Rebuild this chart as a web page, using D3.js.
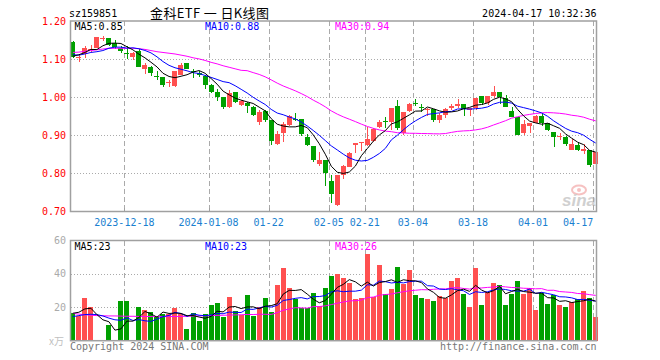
<!DOCTYPE html>
<html><head><meta charset="utf-8">
<script src="https://cdn.jsdelivr.net/npm/d3@7"></script>
<style>body{margin:0;background:#fff}svg{display:block}</style>
</head><body>
<svg id="c" width="660" height="360"></svg>
<script>
// ---------------- DATA ----------------
const dates = [
"2023-12-05","2023-12-06","2023-12-07","2023-12-08","2023-12-11","2023-12-12","2023-12-13","2023-12-14","2023-12-15","2023-12-18",
"2023-12-19","2023-12-20","2023-12-21","2023-12-22","2023-12-25","2023-12-26","2023-12-27","2023-12-28","2023-12-29","2024-01-02",
"2024-01-03","2024-01-04","2024-01-05","2024-01-08","2024-01-09","2024-01-10","2024-01-11","2024-01-12","2024-01-15","2024-01-16",
"2024-01-17","2024-01-18","2024-01-19","2024-01-22","2024-01-23","2024-01-24","2024-01-25","2024-01-26","2024-01-29","2024-01-30",
"2024-01-31","2024-02-01","2024-02-02","2024-02-05","2024-02-06","2024-02-07","2024-02-08","2024-02-19","2024-02-20","2024-02-21",
"2024-02-22","2024-02-23","2024-02-26","2024-02-27","2024-02-28","2024-02-29","2024-03-01","2024-03-04","2024-03-05","2024-03-06",
"2024-03-07","2024-03-08","2024-03-11","2024-03-12","2024-03-13","2024-03-14","2024-03-15","2024-03-18","2024-03-19","2024-03-20",
"2024-03-21","2024-03-22","2024-03-25","2024-03-26","2024-03-27","2024-03-28","2024-03-29","2024-04-01","2024-04-02","2024-04-03",
"2024-04-08","2024-04-09","2024-04-10","2024-04-11","2024-04-12","2024-04-15","2024-04-16","2024-04-17"];

const open = [1.146,1.104,1.114,1.126,1.129,1.156,1.156,1.142,1.129,1.116,
1.105,1.123,1.074,1.081,1.055,1.054,1.038,1.030,1.059,1.089,
1.068,1.065,1.056,1.032,1.015,1.000,0.974,1.014,0.981,0.986,
0.975,0.935,0.965,0.940,0.877,0.907,0.927,0.942,0.942,0.896,
0.872,0.825,0.835,0.781,0.717,0.796,0.816,0.875,0.879,0.874,
0.886,0.923,0.937,0.936,0.977,0.905,0.965,0.986,0.974,0.967,
0.968,0.939,0.954,0.971,0.977,0.982,0.967,0.971,1.003,0.984,
1.003,1.014,0.997,0.965,0.947,0.907,0.925,0.932,0.951,0.933,
0.910,0.897,0.895,0.861,0.874,0.860,0.861,0.825];
const high = [1.147,1.111,1.136,1.138,1.160,1.161,1.157,1.151,1.135,1.135,
1.118,1.127,1.090,1.083,1.068,1.054,1.046,1.068,1.089,1.089,
1.074,1.070,1.059,1.035,1.021,1.000,1.018,1.014,0.994,0.988,
0.977,0.967,0.967,0.940,0.912,0.935,0.954,0.960,0.944,0.903,
0.872,0.856,0.835,0.796,0.796,0.822,0.857,0.879,0.883,0.923,
0.920,0.939,0.947,0.971,0.993,0.962,0.986,0.995,0.982,0.972,
0.970,0.960,0.971,0.982,0.995,0.982,0.972,0.997,1.003,1.003,
1.030,1.014,1.006,0.975,0.947,0.939,0.932,0.954,0.958,0.933,
0.910,0.905,0.898,0.889,0.883,0.877,0.861,0.858];
const low = [1.103,1.094,1.103,1.120,1.129,1.148,1.135,1.128,1.116,1.100,
1.097,1.080,1.061,1.056,1.046,1.026,1.026,1.026,1.059,1.074,
1.050,1.054,1.021,1.011,0.989,0.970,0.971,0.985,0.978,0.958,
0.952,0.927,0.936,0.875,0.874,0.883,0.924,0.938,0.899,0.872,
0.831,0.819,0.767,0.722,0.714,0.784,0.816,0.854,0.860,0.872,
0.883,0.918,0.918,0.914,0.914,0.901,0.962,0.977,0.962,0.951,
0.936,0.933,0.945,0.967,0.971,0.951,0.951,0.967,0.980,0.980,
0.997,0.982,0.975,0.947,0.901,0.901,0.905,0.932,0.925,0.912,
0.870,0.888,0.872,0.861,0.859,0.851,0.816,0.822];
const close = [1.107,1.106,1.129,1.128,1.158,1.157,1.138,1.132,1.123,1.115,
1.116,1.081,1.084,1.065,1.054,1.032,1.039,1.068,1.084,1.074,
1.067,1.059,1.032,1.015,1.000,0.975,1.011,0.988,0.989,0.977,
0.954,0.962,0.940,0.886,0.904,0.930,0.951,0.940,0.904,0.875,
0.835,0.835,0.802,0.746,0.796,0.819,0.854,0.879,0.883,0.891,
0.916,0.936,0.936,0.971,0.918,0.962,0.982,0.985,0.973,0.970,
0.939,0.954,0.968,0.977,0.982,0.968,0.972,0.997,0.986,1.003,
1.015,1.000,0.975,0.949,0.901,0.930,0.932,0.951,0.932,0.914,
0.896,0.898,0.877,0.877,0.861,0.863,0.822,0.856];
// volume (x万)
const volume = [16.4,14.8,25.8,20.4,0.7,0.7,9.1,0.7,24.0,24.0,
0.7,20.2,18.4,17.0,14.0,16.0,16.0,19.6,16.0,7.1,
16.4,11.6,16.0,21.4,22.6,14.4,26.0,17.8,15.2,27.4,
14.8,20.2,25.4,17.0,33.1,43.5,31.5,25.0,19.6,19.6,
28.5,20.6,31.5,38.7,39.9,37.7,34.7,25.0,25.8,51.8,
26.0,45.3,27.8,31.0,44.1,33.9,42.5,27.4,25.8,25.0,
23.8,27.0,25.4,35.7,37.7,28.2,20.4,43.7,21.4,29.4,
34.7,33.3,21.4,28.2,35.7,28.2,31.5,18.4,28.4,22.0,
27.4,21.4,20.2,23.0,25.0,29.8,25.8,14.2];

// moving-average values at the start of the window (history lies before the chart)
const ma5Head  = [1.108,1.112,1.118,1.126];
const ma10Head = [1.112,1.111,1.114,1.118,1.120,1.123,1.129,1.132,1.132];
const ma30Head = [1.118,1.119,1.121,1.123,1.125,1.127,1.129,1.129,1.129,1.129,1.129,1.128,1.126,1.123,1.120,1.118,1.116,1.114,1.111,1.108,1.104,1.101,1.097,1.092,1.088,1.083,1.079,1.075,1.071];
const vma5Head  = [16.4,17.0,19.0,19.4];
const vma10Head = [14.4,15.0,15.6,15.8,15.6,14.8,13.5,12.5,12.2];
const vma30Head = [16.3,15.9,15.5,15.2,15.0,14.9,14.8,14.8,14.7,14.6,14.6,14.5,14.5,14.4,14.4,14.4,14.4,14.5,14.5,14.6,14.7,14.8,14.9,15.0,15.1,15.2,15.3,15.4,15.5];

const priceTicks = [1.20,1.10,1.00,0.90,0.80,0.70];
const volTicks = [60,40,20];
const tickDates = ["2023-12-18","2024-01-08","2024-01-22","2024-02-05","2024-02-21","2024-03-04","2024-03-18","2024-04-01","2024-04-17"];
const tickLabels = ["2023-12-18","2024-01-08","01-22","02-05","02-21","03-04","03-18","04-01","04-17"];
const maNames = ["MA5","MA10","MA30"];
const priceMaLegend = ["0.85","0.88","0.94"];
const volMaLegend = ["23","23","26"];
const code = "sz159851";
const title = "金科ETF 一 日K线图";
const stamp = "2024-04-17 10:32:36";

// ---------------- CHART ----------------
const MONO = "'DejaVu Sans Mono', 'Liberation Mono', monospace";
const CJK = "'Noto Sans CJK SC', sans-serif";
const UP = "#ff5050", DOWN = "#00a000";
const maColors = ["#000000","#0000ff","#ff00ff"];
const L = 70.5, R = 596.5;
const n = close.length;
const svg = d3.select("#c");

const x = d3.scaleBand().domain(d3.range(n)).range([70.3, 70.3 + 6 * n]).paddingInner(0.15).paddingOuter(0).align(0);
const bw = x.bandwidth();
const cx = i => Math.round(x(i) + bw / 2) + 0.5;
const y = d3.scaleLinear().domain([0.70, 1.20]).range([211.3, 21.3]);
const yv = d3.scaleLinear().domain([0, 60]).range([340.7, 240.3]);

function ma(arr, p, head) {
  return arr.map((_, i) => i < head.length ? head[i] : d3.mean(arr.slice(i - p + 1, i + 1)));
}
const priceMA = [ma(close, 5, ma5Head), ma(close, 10, ma10Head), ma(close, 30, ma30Head)];
const volMA = [ma(volume, 5, vma5Head), ma(volume, 10, vma10Head), ma(volume, 30, vma30Head)];

const tickIdx = tickDates.map(d => dates.indexOf(d));

// grids
const grid = svg.append("g").attr("stroke", "#aaaaaa").attr("stroke-width", 1).attr("shape-rendering", "crispEdges");
[1.10, 1.00, 0.90, 0.80].forEach(v => {
  grid.append("line").attr("x1", L).attr("x2", R).attr("y1", Math.round(y(v)) + 0.5).attr("y2", Math.round(y(v)) + 0.5).attr("stroke-dasharray", "1,2");
});
[40, 20].forEach(v => {
  grid.append("line").attr("x1", L).attr("x2", R).attr("y1", Math.round(yv(v)) + 0.5).attr("y2", Math.round(yv(v)) + 0.5).attr("stroke-dasharray", "1,2");
});
tickIdx.forEach(i => {
  const gx = Math.round(x(i)) + 0.5;
  grid.append("line").attr("x1", gx).attr("x2", gx).attr("y1", 21).attr("y2", 211).attr("stroke-dasharray", "5,3");
  grid.append("line").attr("x1", gx).attr("x2", gx).attr("y1", 241).attr("y2", 340).attr("stroke-dasharray", "5,3");
});

// sina watermark
const wm = svg.append("g").attr("opacity", 0.55);
wm.append("ellipse").attr("cx", 579).attr("cy", 190).attr("rx", 7).attr("ry", 4.5).attr("fill", "none").attr("stroke", "#f09090").attr("stroke-width", 2);
wm.append("circle").attr("cx", 579).attr("cy", 190).attr("r", 2).attr("fill", "#f09090");
wm.append("text").attr("x", 596).attr("y", 206).attr("text-anchor", "end").attr("font-family", "'Liberation Sans', Arial, sans-serif")
  .attr("font-size", 17).attr("font-style", "italic").attr("font-weight", "bold").attr("fill", "#aaaaaa").text("sina");

// candles
const cg = svg.append("g").attr("shape-rendering", "crispEdges");
d3.range(n).forEach(i => {
  const o = open[i], c = close[i], col = c >= o ? UP : DOWN;
  cg.append("line").attr("x1", cx(i)).attr("x2", cx(i)).attr("y1", y(high[i])).attr("y2", y(low[i])).attr("stroke", col).attr("stroke-width", 1);
  const top = y(Math.max(o, c)), h = Math.abs(y(o) - y(c));
  cg.append("rect").attr("x", Math.round(x(i))).attr("width", 5).attr("y", top).attr("height", Math.max(1, h)).attr("fill", col);
});

// volume bars
const vg = svg.append("g").attr("shape-rendering", "crispEdges");
d3.range(n).forEach(i => {
  const col = close[i] >= open[i] ? UP : DOWN;
  vg.append("rect").attr("x", Math.round(x(i))).attr("width", 5.3)
    .attr("y", yv(volume[i])).attr("height", Math.max(1, yv(0) - yv(volume[i]))).attr("fill", col);
});

// MA lines
const lineP = d3.line().x((d, i) => x(i) + bw / 2).y(d => y(d));
const lineV = d3.line().x((d, i) => x(i) + bw / 2).y(d => yv(d));
[2, 1, 0].forEach(k => {
  svg.append("path").attr("d", lineP(priceMA[k])).attr("fill", "none").attr("stroke", maColors[k]).attr("stroke-width", 1);
  svg.append("path").attr("d", lineV(volMA[k])).attr("fill", "none").attr("stroke", maColors[k]).attr("stroke-width", 1);
});

// borders
svg.append("rect").attr("x", L).attr("y", 21).attr("width", R - L).attr("height", 190.5).attr("fill", "none").attr("stroke", "#a0a0a0").attr("stroke-width", 1.5);
svg.append("rect").attr("x", L).attr("y", 240.5).attr("width", R - L).attr("height", 100.2).attr("fill", "none").attr("stroke", "#a0a0a0").attr("stroke-width", 1.5);

// price axis labels
svg.append("g").selectAll("text").data(priceTicks).join("text")
  .attr("x", 66).attr("y", d => y(d)).attr("dy", "0.36em").attr("text-anchor", "end")
  .attr("font-family", MONO).attr("font-size", 10).attr("fill", "#ff0000").text(d => d.toFixed(2));
// volume axis labels
svg.append("g").selectAll("text").data(volTicks).join("text")
  .attr("x", 66).attr("y", d => yv(d)).attr("dy", "0.36em").attr("text-anchor", "end")
  .attr("font-family", MONO).attr("font-size", 10).attr("fill", "#aaaaaa").text(d => d);
svg.append("text").attr("x", 64).attr("y", 344.5).attr("text-anchor", "end").attr("font-family", CJK).attr("font-size", 10).attr("fill", "#c0c0c0").text("x万");

// date axis
const lastBound = x(n - 1);
const dg = svg.append("g");
tickIdx.forEach((i, k) => {
  const gx = x(i);
  const t = dg.append("text").attr("y", 225.5).attr("font-family", MONO).attr("font-size", 10).attr("fill", "#1a7fd0").attr("text-anchor", "middle").text(tickLabels[k]);
  const w = t.node().getComputedTextLength();
  const c = Math.min(gx, lastBound - w / 2);
  t.attr("x", c);
  dg.append("line").attr("x1", Math.round(c) + 0.5).attr("x2", Math.round(c) + 0.5).attr("y1", 208).attr("y2", 211).attr("stroke", "#a0a0a0");
});

// legends
const lx = [74.5, 205, 335];
maNames.forEach((nm, k) => {
  svg.append("text").attr("x", lx[k]).attr("y", 30).attr("font-family", MONO).attr("font-size", 10).attr("fill", maColors[k]).text(nm + ":" + priceMaLegend[k]);
  svg.append("text").attr("x", lx[k]).attr("y", 250).attr("font-family", MONO).attr("font-size", 10).attr("fill", maColors[k]).text(nm + ":" + volMaLegend[k]);
});

// header
svg.append("text").attr("x", 69).attr("y", 17).attr("font-family", MONO).attr("font-size", 10).attr("fill", "#000").text(code);
svg.append("text").attr("x", 150).attr("y", 18).attr("font-family", CJK).attr("font-size", 13).attr("fill", "#000")
  .attr("textLength", 119).attr("lengthAdjust", "spacing").text(title);
svg.append("text").attr("x", 596.5).attr("y", 17).attr("text-anchor", "end").attr("font-family", MONO).attr("font-size", 10).attr("fill", "#000").text(stamp);

// footer
svg.append("text").attr("x", 70).attr("y", 350).attr("font-family", MONO).attr("font-size", 10).attr("fill", "#777").text("Copyright 2024 SINA.COM");
svg.append("text").attr("x", 596.5).attr("y", 350).attr("text-anchor", "end").attr("font-family", MONO).attr("font-size", 10).attr("fill", "#777").text("http://finance.sina.com.cn");
</script>
</body></html>
